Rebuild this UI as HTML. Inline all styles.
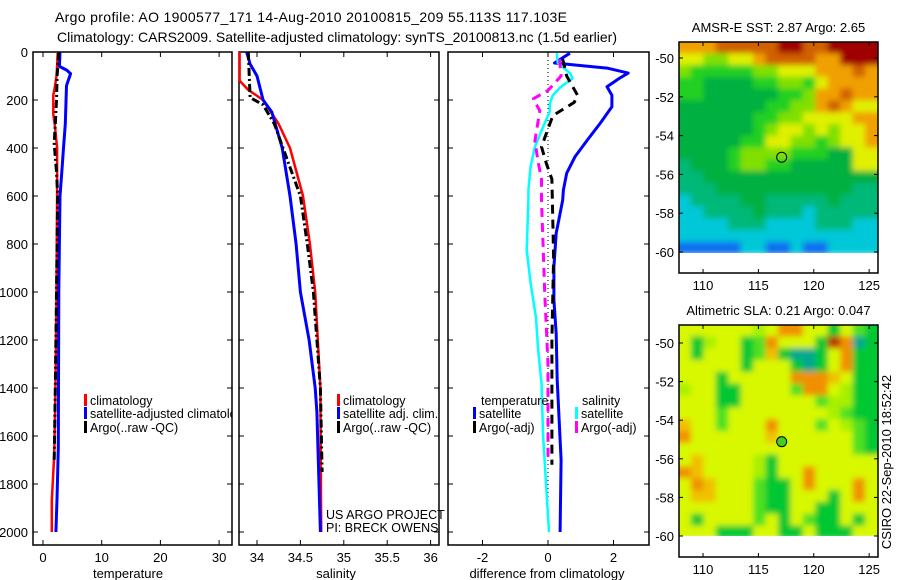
<!DOCTYPE html>
<html><head><meta charset="utf-8">
<style>
body{margin:0;background:#fff;}
svg{display:block;font-family:"Liberation Sans",sans-serif;}
</style></head>
<body>
<svg id="c" width="900" height="580" viewBox="0 0 900 580" xmlns="http://www.w3.org/2000/svg">
<defs>
<filter id="blur1" filterUnits="userSpaceOnUse" x="600" y="0" width="300" height="580"><feGaussianBlur stdDeviation="3"/></filter>
<clipPath id="clipM1"><rect x="679" y="42" width="199" height="211"/></clipPath>
<clipPath id="clipM2"><rect x="679" y="325" width="199" height="211"/></clipPath>
<clipPath id="clipP1"><rect x="33" y="52" width="199" height="493"/></clipPath>
</defs>
<text x="55" y="22" font-size="14" textLength="512">Argo profile: AO 1900577_171 14-Aug-2010 20100815_209 55.113S 117.103E</text>
<text x="57" y="42" font-size="14" textLength="560">Climatology: CARS2009. Satellite-adjusted climatology: synTS_20100813.nc (1.5d earlier)</text>
<g id="plots"></g>
</svg>
<script>
// ---------- data ----------
const depthTicks = [0,200,400,600,800,1000,1200,1400,1600,1800,2000];
const tempTicks = [0,10,20,30];
const salTicks = [34,34.5,35,35.5,36];
const diffTicks = [-2,0,2];

const tClimD = [0,60,100,150,180,260,300,400,600,1000,1450,1680,1870,2000];
const tClimV = [2.5,2.4,2.3,2.0,1.75,1.75,2.0,2.4,2.4,2.3,2.1,1.9,1.5,1.5];
const tSatD = [0,60,75,90,140,300,400,500,600,1000,1650,1850,2000];
const tSatV = [2.9,2.8,4.0,4.7,4.0,3.8,3.5,3.2,2.9,2.7,2.6,2.4,2.2];
const tArgD = [0,100,200,300,380,500,600,1000,1400,1700];
const tArgV = [2.7,2.4,2.3,2.1,1.9,2.3,2.5,2.3,2.1,1.9];

const sClimD = [0,120,158,200,300,400,600,800,1000,1400,2000];
const sClimV = [33.80,33.80,33.90,34.07,34.25,34.38,34.53,34.61,34.67,34.73,34.74];
const sSatD = [0,50,100,200,250,400,600,800,1000,1200,1400,1500,2000];
const sSatV = [33.88,33.92,34.0,34.07,34.17,34.29,34.38,34.45,34.50,34.60,34.67,34.69,34.73];
const sArgD = [0,190,220,300,400,600,800,1000,1400,1750];
const sArgV = [33.90,33.92,34.07,34.2,34.3,34.5,34.58,34.65,34.73,34.75];

const dTSatD = [5,46,67,88,108,145,180,228,296,367,437,505,575,617,755,896,1033,1175,1367,1700,2000];
const dTSatV = [0.67,0.2,1.8,2.45,2.2,1.8,1.95,1.95,1.6,1.2,0.82,0.57,0.47,0.45,0.25,0.18,0.18,0.25,0.28,0.4,0.37];
const dSSatD = [5,46,88,110,148,180,213,250,312,395,478,575,617,825,963,1104,1242,1380,1600,2000];
const dSSatV = [0.27,0.3,0.67,0.75,0.37,0.15,0.06,0.05,-0.15,-0.4,-0.53,-0.6,-0.6,-0.65,-0.53,-0.37,-0.3,-0.2,-0.15,0.03];
const dTArgD = [30,100,180,210,265,320,395,465,530,854,1200,1720];
const dTArgV = [0.45,0.57,0.9,0.8,0.15,0.0,-0.2,-0.05,0.12,0.17,0.12,0.12];
const dSArgD = [30,100,160,195,245,370,460,530,617,1000,1300,1700];
const dSArgV = [0.35,0.4,0.0,-0.45,-0.25,-0.4,-0.3,-0.2,-0.2,-0.1,0.0,0.0];

const lonTicks = [110,115,120,125];
const latTicks = [-50,-52,-54,-56,-58,-60];
const argoLon = 117.103, argoLat = -55.113;

const sstGrid = [
"7778888899889999","6655667888877999","5444445566677787","4433334455467777",
"4433333344577877","3333333445578766","3333334455666677","3333334566565667",
"3333344665545667","3333455554443366","2333455443333366","2233333333333333",
"2223333333333322","1222233222223222","1122223222122222","1111222111122211",
"1111111111111111","0000011001001111"];
const sstColors = ["#1070f0","#00c8d8","#00b878","#00b040","#20d020","#80e000","#e0f000","#f0a000","#d06000","#a00000"];
const slaGrid = [
"4444443477441421","4134412744418701","4144412610014711","4444414441014711",
"4441444447776411","3441144442774311","4441144444423311","4442444444443211",
"6442444744424321","7444444644444421","4444444444444421","4644443144444444",
"7644443144744444","4764442114744474","4664442114441474","4444442114411444",
"4144442414211414","4441114411411144"];
const slaColors = ["#00a890","#00c830","#50e020","#a8f000","#d8f800","#f0f000","#f0c000","#f09000","#c03000"];

// ---------- helpers ----------
const NS="http://www.w3.org/2000/svg";
const root=document.getElementById('plots');
function mk(tag,attrs,parent){const e=document.createElementNS(NS,tag);for(const k in attrs)e.setAttribute(k,attrs[k]);(parent||root).appendChild(e);return e;}
function txt(x,y,s,size,anchor,parent){const t=mk('text',{x:x,y:y,'font-size':size||13,'text-anchor':anchor||'start'},parent);t.textContent=s;return t;}

const yD = d => 52 + d*0.24;
const PT=52, PB=545;
const xT = v => 43 + v*5.87;
const xS = v => 257 + (v-34)*86.8;
const xDf = v => 548 + v*32.75;

function panel(x0,x1,name){
  const r=mk('rect',{x:x0,y:PT,width:x1-x0,height:PB-PT,fill:'none',stroke:'#000','stroke-width':1.5});
  
  
  depthTicks.forEach(d=>{mk('line',{x1:x0,x2:x0+5,y1:yD(d),y2:yD(d),stroke:'#000'});mk('line',{x1:x1,x2:x1-5,y1:yD(d),y2:yD(d),stroke:'#000'});});
}
function xticks(ticks,fx,x0,x1,label,lx,name){
  const g=mk('g',{});
  
  
  ticks.forEach(v=>{const x=fx(v);mk('line',{x1:x,x2:x,y1:PB,y2:PB-5,stroke:'#000'},g);mk('line',{x1:x,x2:x,y1:PT,y2:PT+5,stroke:'#000'},g);txt(x,562,String(v),13,'middle',g);});
  txt(lx,578,label,13,'middle',g);
}
function series(D,V,fx,color,w,dash,name){
  const pts=D.map((d,i)=>fx(V[i]).toFixed(1)+','+yD(d).toFixed(1)).join(' ');
  const p=mk('polyline',{points:pts,fill:'none',stroke:color,'stroke-width':w,'stroke-dasharray':dash||'none','stroke-linejoin':'round'});
  
  
}
function legend(x,y,color,label,name,parent){
  const g=mk('g',{},parent);
  
  
  mk('rect',{x:x,y:y-11,width:3,height:12,fill:color},g);
  txt(x+6,y,label,12.5,'start',g);
}

// ---------- panel 1: temperature ----------
panel(33,232,'temperature-panel');
const yl=mk('g',{});


depthTicks.forEach(d=>txt(28,yD(d)+5,String(d),13,'end',yl));
xticks(tempTicks,xT,33,232,'temperature',128,'temperature-x-axis');
series(tClimD,tClimV,xT,'#ff0000',2.5,null,'temp-climatology-line');
series(tSatD,tSatV,xT,'#0000ff',3,null,'temp-satellite-line');
series(tArgD,tArgV,xT,'#000',3,'8,3,2,3','temp-argo-line');
const lg1=mk('g',{'clip-path':'url(#clipP1)'});
legend(84,405,'#ff0000','climatology','legend-climatology',lg1);
legend(84,418,'#0000ff','satellite-adjusted climatology','legend-satellite-adjusted',lg1);
legend(84,432,'#000','Argo(..raw -QC)','legend-argo-raw',lg1);

// ---------- panel 2: salinity ----------
panel(239,439,'salinity-panel');
xticks(salTicks,xS,239,439,'salinity',336,'salinity-x-axis');
series(sClimD,sClimV,xS,'#ff0000',2.5,null,'sal-climatology-line');
series(sSatD,sSatV,xS,'#0000ff',3,null,'sal-satellite-line');
series(sArgD,sArgV,xS,'#000',3,'8,3,2,3','sal-argo-line');
legend(337,405,'#ff0000','climatology','legend-sal-climatology');
legend(337,418,'#0000ff','satellite adj. clim.','legend-sal-satellite');
legend(337,432,'#000','Argo(..raw -QC)','legend-sal-argo');
const pj=mk('g',{});


txt(326,519,'US ARGO PROJECT',12.5,'start',pj);
txt(326,532,'PI: BRECK OWENS',12.5,'start',pj);

// ---------- panel 3: difference ----------
panel(448,649,'difference-panel');
xticks(diffTicks,xDf,448,649,'difference from climatology',547,'difference-x-axis');
const zl=mk('line',{x1:xDf(0),x2:xDf(0),y1:PT,y2:yD(2000),stroke:'#000','stroke-width':1,'stroke-dasharray':'1,3'});


series(dTSatD,dTSatV,xDf,'#0000ff',3,null,'diff-temp-satellite-line');
series(dSSatD,dSSatV,xDf,'#00ffff',2.5,null,'diff-sal-satellite-line');
series(dTArgD,dTArgV,xDf,'#000',3,'9,6','diff-temp-argo-line');
series(dSArgD,dSArgV,xDf,'#ff00ff',3,'9,6','diff-sal-argo-line');
txt(481,405,'temperature',12.5,'start');
legend(473,418,'#0000ff','satellite','legend-diff-temp-satellite');
legend(473,432,'#000','Argo(-adj)','legend-diff-temp-argo');
txt(582,405,'salinity',12.5,'start');
legend(575,418,'#00ffff','satellite','legend-diff-sal-satellite');
legend(575,432,'#ff00ff','Argo(-adj)','legend-diff-sal-argo');

// ---------- maps ----------
function map(top,bottom,lat50y,lat60y,grid,colors,title,name,clip,markerFill){
  const L=679,R=878;
  const lonMin=107.83,lonMax=125.8;
  const fx=lon=>L+(lon-lonMin)/(lonMax-lonMin)*(R-L);
  const fy=lat=>lat50y+(-50-lat)*(lat60y-lat50y)/10;
  const dataTop=top, dataBot=fy(-60.1);
  const g=mk('g',{});
  
  
  const cg=mk('g',{'clip-path':'url(#'+clip+')'},g);
  const bg=mk('g',{filter:'url(#blur1)'},cg);
  const rows=grid.length, cols=grid[0].length;
  const cw=(R-L)/cols, ch=(dataBot-dataTop)/rows;
  mk('rect',{x:L-10,y:dataTop-10,width:R-L+20,height:dataBot-dataTop+10,fill:colors[3]},bg);
  grid.forEach((row,ri)=>{for(let ci=0;ci<cols;ci++){
    const ext=(ci===0?8:0), extR=(ci===cols-1?8:0), extT=(ri===0?8:0);
    const c=mk('rect',{x:L+ci*cw-0.5-ext,y:dataTop+ri*ch-0.5-extT,width:cw+1+ext+extR,height:ch+1+extT,fill:colors[+row[ci]]},bg);
    
    
  }});
  mk('rect',{x:L,y:dataBot,width:R-L,height:bottom-dataBot,fill:'#fff'},g);
  mk('rect',{x:L,y:top,width:R-L,height:bottom-top,fill:'none',stroke:'#000','stroke-width':1.5},g);
  lonTicks.forEach(v=>{const x=fx(v);mk('line',{x1:x,x2:x,y1:top,y2:top+4,stroke:'#000'},g);mk('line',{x1:x,x2:x,y1:bottom,y2:bottom-4,stroke:'#000'},g);txt(x,bottom+17,String(v),13,'middle',g);});
  latTicks.forEach(v=>{const y=fy(v);mk('line',{x1:L,x2:L+4,y1:y,y2:y,stroke:'#000'},g);mk('line',{x1:R,x2:R-4,y1:y,y2:y,stroke:'#000'},g);txt(674,y+5,String(v),13,'end',g);});
  txt((L+R)/2,top-10,title,13,'middle',g);
  const m=mk('circle',{cx:fx(argoLon),cy:fy(argoLat),r:5,fill:markerFill,stroke:'#000','stroke-width':1},g);
  
  
}
map(42,273,58,252,sstGrid,sstColors,'AMSR-E SST: 2.87 Argo: 2.65','sst-map','clipM1','none');
map(325,557,343,536,slaGrid,slaColors,'Altimetric SLA: 0.21 Argo: 0.047','sla-map','clipM2','#40d020');

const st=txt(0,0,'CSIRO 22-Sep-2010 18:52:42',13,'middle');
st.setAttribute('transform','translate(891,462) rotate(-90)');


</script>
</body></html>
